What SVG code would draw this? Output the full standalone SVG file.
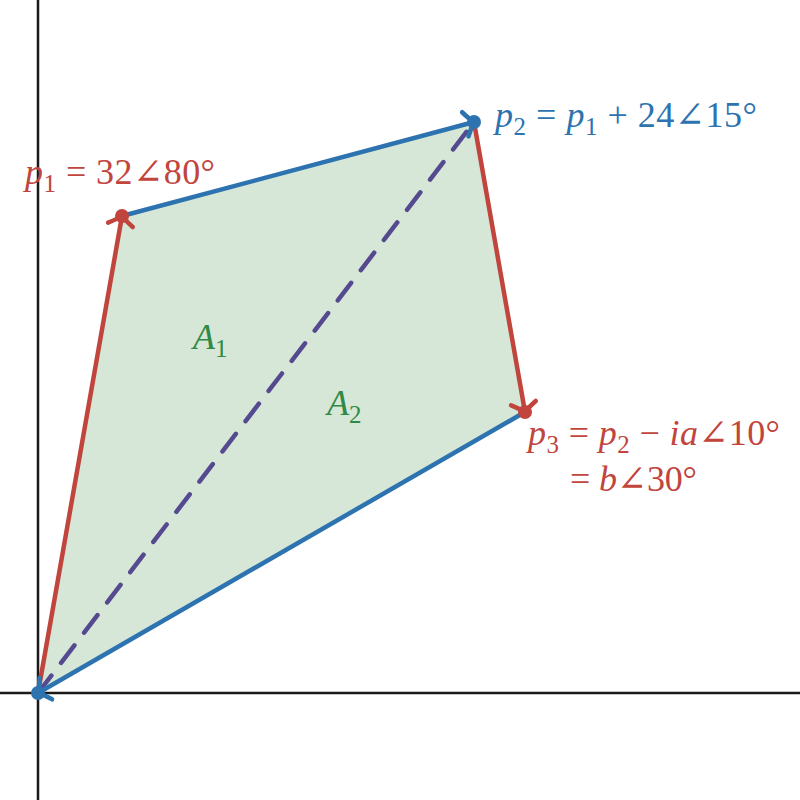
<svg xmlns="http://www.w3.org/2000/svg" width="800" height="800" viewBox="0 0 800 800">
<style>
.ax{stroke:#1a1a1a;stroke-width:2.5;fill:none}
.red{stroke:#c1443d;stroke-width:4.5;fill:none;stroke-linecap:round}
.blue{stroke:#2c73b0;stroke-width:4.5;fill:none;stroke-linecap:round}
.dash{stroke:#554a8f;stroke-width:4.5;fill:none;stroke-linecap:round;stroke-dasharray:22 16}
.t{font-family:"Liberation Serif","DejaVu Serif",serif;font-size:36px}
.s{font-size:25px}
.i{font-style:italic}
.rt{fill:#c1443d}.bt{fill:#2c73b0}.gt{fill:#2f8a45}
</style>
<defs>
<marker id="ar" markerUnits="userSpaceOnUse" viewBox="-20 -20 40 40" markerWidth="40" markerHeight="40" refX="0" refY="0" orient="auto">
<path d="M -9,-12.5 Q -3,-3 0,0 Q -3,3 -9,12.5" fill="none" stroke="#c1443d" stroke-width="4.5" stroke-linecap="round"/>
</marker>
<marker id="ab" markerUnits="userSpaceOnUse" viewBox="-20 -20 40 40" markerWidth="40" markerHeight="40" refX="0" refY="0" orient="auto">
<path d="M -9,-12.5 Q -3,-3 0,0 Q -3,3 -9,12.5" fill="none" stroke="#2c73b0" stroke-width="4.5" stroke-linecap="round"/>
</marker>
</defs>
<g id="axes">
<line class="ax" x1="38" y1="0" x2="38" y2="800"/>
<line class="ax" x1="0" y1="693" x2="800" y2="693"/>
</g>
<g id="region">
<polygon points="38,693 122,216 474,122 525,412" fill="#d6e6d7"/>
</g>
<g id="connectors">
<line class="dash" x1="38" y1="693" x2="474" y2="122"/>
<line class="red" x1="38" y1="693" x2="122" y2="216" marker-end="url(#ar)"/>
<line class="blue" x1="122" y1="216" x2="474" y2="122" marker-end="url(#ab)"/>
<line class="red" x1="474" y1="122" x2="525" y2="412" marker-end="url(#ar)"/>
<line class="blue" x1="525" y1="412" x2="38" y2="693" marker-end="url(#ab)"/>
</g>
<g id="O"><circle cx="38" cy="693" r="7" fill="#2c73b0"/></g>
<g id="p1"><circle cx="122" cy="216" r="7" fill="#c1443d"/>
<text class="t rt" x="25" y="184" textLength="190" lengthAdjust="spacing"><tspan class="i">p</tspan><tspan class="s" dy="8">1</tspan><tspan dy="-8"> = 32∠80°</tspan></text></g>
<g id="p2"><circle cx="474" cy="122" r="7" fill="#2c73b0"/>
<text class="t bt" x="495" y="127" textLength="262" lengthAdjust="spacing"><tspan class="i">p</tspan><tspan class="s" dy="8">2</tspan><tspan dy="-8"> = </tspan><tspan class="i">p</tspan><tspan class="s" dy="8">1</tspan><tspan dy="-8"> + 24∠15°</tspan></text></g>
<g id="p3"><circle cx="525" cy="412" r="7" fill="#c1443d"/>
<text class="t rt" x="528" y="445" textLength="252" lengthAdjust="spacing"><tspan class="i">p</tspan><tspan class="s" dy="8">3</tspan><tspan dy="-8"> = </tspan><tspan class="i">p</tspan><tspan class="s" dy="8">2</tspan><tspan dy="-8"> − </tspan><tspan class="i">ia</tspan><tspan>∠10°</tspan></text>
<text class="t rt" x="570" y="491" textLength="127" lengthAdjust="spacing">= <tspan class="i">b</tspan>∠30°</text></g>
<g id="A1"><text class="t gt" x="193" y="349"><tspan class="i">A</tspan><tspan class="s" dy="8">1</tspan></text></g>
<g id="A2"><text class="t gt" x="327" y="415"><tspan class="i">A</tspan><tspan class="s" dy="8">2</tspan></text></g>
</svg>
